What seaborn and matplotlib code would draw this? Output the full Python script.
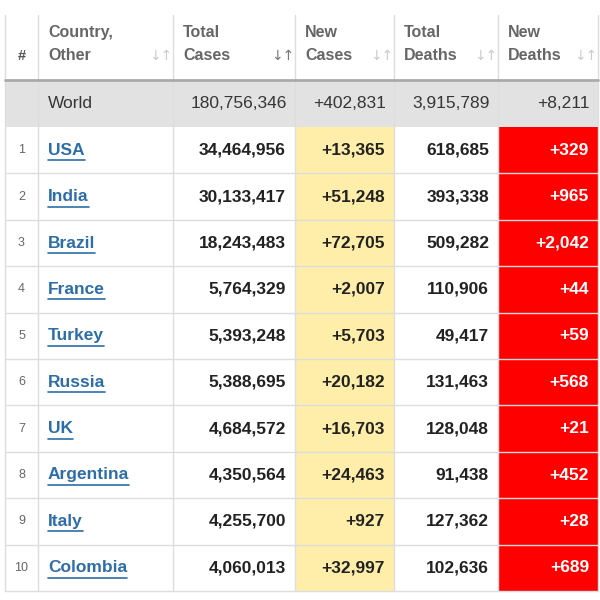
import matplotlib
matplotlib.use("Agg")
import matplotlib.pyplot as plt
import seaborn as sns
from matplotlib.patches import Rectangle

sns.set_theme(style="white", font="Liberation Sans")

headers = ["#", "Country,\nOther", "Total\nCases", "New\nCases", "Total\nDeaths", "New\nDeaths"]
countries = ["USA", "India", "Brazil", "France", "Turkey", "Russia", "UK", "Argentina", "Italy", "Colombia"]
total_cases = [34464956, 30133417, 18243483, 5764329, 5393248, 5388695, 4684572, 4350564, 4255700, 4060013]
new_cases = [13365, 51248, 72705, 2007, 5703, 20182, 16703, 24463, 927, 32997]
total_deaths = [618685, 393338, 509282, 110906, 49417, 131463, 128048, 91438, 127362, 102636]
new_deaths = [329, 965, 2042, 44, 59, 568, 21, 452, 28, 689]
world = ["World", 180756346, 402831, 3915789, 8211]

col_edges = [5, 38, 173, 295, 394, 498, 598]
header_top, header_bot = 15, 80
world_bot = 127
row_h = 46.4

fig = plt.figure(figsize=(6, 6), dpi=100)
ax = fig.add_axes([0, 0, 1, 1])
ax.set_xlim(0, 600)
ax.set_ylim(600, 0)
ax.axis("off")

grid = "#dddddd"
def rect(x0, y0, x1, y1, c):
    ax.add_patch(Rectangle((x0, y0), x1 - x0, y1 - y0, facecolor=c, edgecolor="none", zorder=0))

# header
for i, h in enumerate(headers):
    x0, x1 = col_edges[i], col_edges[i + 1]
    if i == 0:
        ax.text((x0 + x1) / 2, 56, h, ha="center", va="center", fontsize=10.5, color="#555555", fontweight="bold")
    else:
        ax.text(x0 + 10, 44, h, ha="left", va="center", fontsize=11.5, color="#666666", fontweight="bold", linespacing=1.6)
        ax.text(x1 - 12, 56, "↓↑", ha="center", va="center", fontsize=10,
                color="#777777" if i == 2 else "#cccccc", fontfamily="DejaVu Sans")

# world row
rect(col_edges[0], header_bot, col_edges[-1], world_bot, "#e2e2e2")
wy = (header_bot + world_bot) / 2
ax.text(col_edges[1] + 10, wy, world[0], ha="left", va="center", fontsize=12.5, color="#363636")
for j, v in enumerate(world[1:]):
    s = f"{v:,}" if j in (0, 2) else f"+{v:,}"
    ax.text(col_edges[j + 3] - 8, wy, s, ha="right", va="center", fontsize=12.5, color="#363636")

for r in range(len(countries)):
    y0 = world_bot + r * row_h
    y1 = y0 + row_h
    yc = (y0 + y1) / 2
    rect(col_edges[3], y0, col_edges[4], y1, "#ffeeaa")
    rect(col_edges[5], y0, col_edges[6], y1, "#ff0000")
    ax.text((col_edges[0] + col_edges[1]) / 2, yc, str(r + 1), ha="center", va="center", fontsize=9, color="#666666")
    t = ax.text(col_edges[1] + 10, yc, countries[r], ha="left", va="center", fontsize=12.5,
                color="#2d6ea8", fontweight="bold")
    fig.canvas.draw()
    bb = t.get_window_extent().transformed(ax.transData.inverted())
    ax.plot([bb.x0, bb.x1], [yc + 10, yc + 10], color="#2d6ea8", lw=1.2)
    vals = [f"{total_cases[r]:,}", f"+{new_cases[r]:,}", f"{total_deaths[r]:,}", f"+{new_deaths[r]:,}"]
    cols = ["#222222", "#222222", "#222222", "white"]
    for j, s in enumerate(vals):
        ax.text(col_edges[j + 3] - 9, yc, s, ha="right", va="center", fontsize=12.5, color=cols[j], fontweight="bold")
    ax.plot([col_edges[0], col_edges[-1]], [y1, y1], color=grid, lw=1, zorder=1)

bottom = world_bot + len(countries) * row_h
for x in col_edges:
    ax.plot([x, x], [header_top, bottom], color=grid, lw=1, zorder=1)
ax.plot([col_edges[0], col_edges[-1]], [header_bot, header_bot], color="#aaaaaa", lw=2, zorder=2)

fig.savefig("out.png", dpi=100, facecolor="white")
